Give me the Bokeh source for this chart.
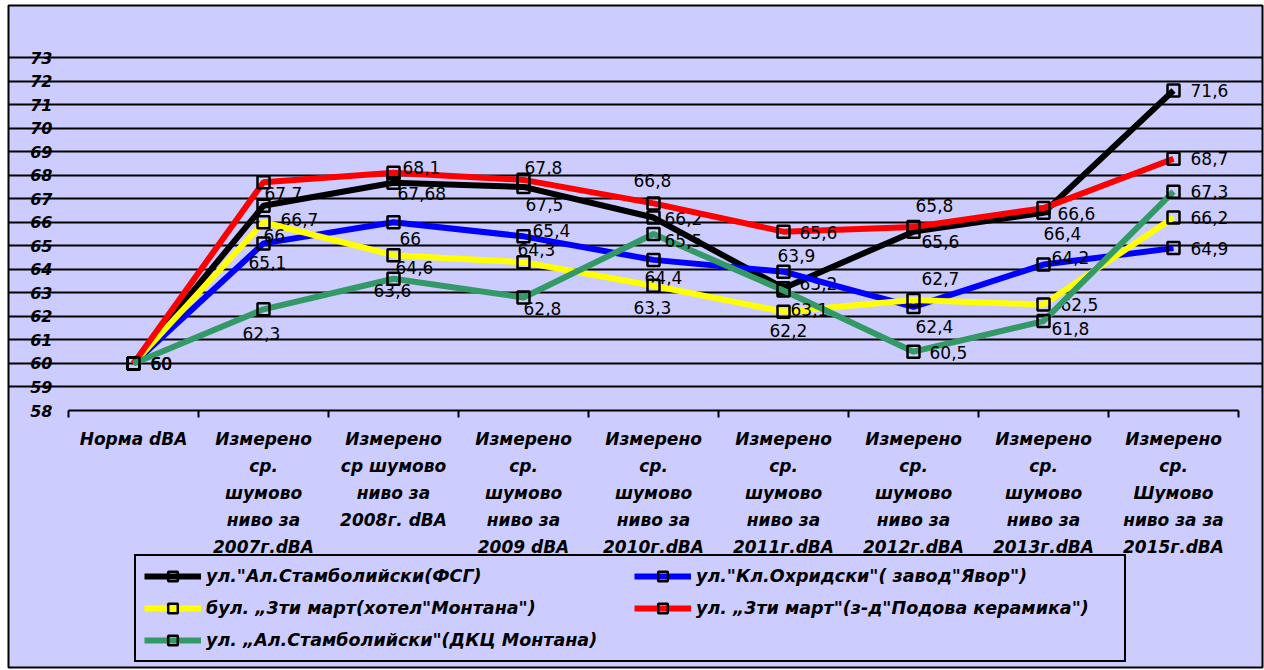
from bokeh.plotting import figure
from bokeh.models import Range1d, FixedTicker, Legend, LegendItem, ColumnDataSource
from bokeh.core.properties import value
from bokeh.embed import file_html
from bokeh.resources import INLINE

# ---------------- data ----------------
categories = [
    "Норма dBA",
    "Измерено\nср.\nшумово\nниво за\n2007г.dBA",
    "Измерено\nср шумово\nниво за\n2008г. dBA",
    "Измерено\nср.\nшумово\nниво за\n2009 dBA",
    "Измерено\nср.\nшумово\nниво за\n2010г.dBA",
    "Измерено\nср.\nшумово\nниво за\n2011г.dBA",
    "Измерено\nср.\nшумово\nниво за\n2012г.dBA",
    "Измерено\nср.\nшумово\nниво за\n2013г.dBA",
    "Измерено\nср.\nШумово\nниво за за\n2015г.dBA",
]
fsg = [60, 66.7, 67.68, 67.5, 66.2, 63.2, 65.6, 66.4, 71.6]
yavor = [60, 65.1, 66, 65.4, 64.4, 63.9, 62.4, 64.2, 64.9]
hotel_montana = [60, 66, 64.6, 64.3, 63.3, 62.2, 62.7, 62.5, 66.2]
podova = [60, 67.7, 68.1, 67.8, 66.8, 65.6, 65.8, 66.6, 68.7]
dkc = [60, 62.3, 63.6, 62.8, 65.5, 63.1, 60.5, 61.8, 67.3]

series_names = [
    'ул."Ал.Стамболийски(ФСГ)',
    'ул."Кл.Охридски"( завод"Явор")',
    'бул. „3ти март(хотел"Монтана")',
    'ул. „3ти март"(з-д"Подова керамика")',
    'ул. „Ал.Стамболийски"(ДКЦ Монтана)',
]
series_values = [fsg, yavor, hotel_montana, podova, dkc]
y_ticks = list(range(58, 74))
y_min, y_max = 58, 73

# ---------------- styling / placement ----------------
colors = ["#000000", "#0000FF", "#FFFF00", "#FF0000", "#339966"]
# data-label placement (screen px): left edge dx, vertical centre dy
label_dx = [
    [17, 17, 4, 2, 11, 16, 8, 0, 17],
    [17, -15, 6, 9, -9, -6, 2, 8, 17],
    [17, 0, 2, -6, -20, -14, 8, 17, 17],
    [17, 1, 9, 1, -20, 16, 2, 14, 17],
    [17, -21, -20, 0, 11, 7, 16, 8, 17],
]
label_dy = [
    [0, 14, 11, 18, 1, -5, 10, 21, 0],
    [0, 19, 16, -6, 18, -16, 20, -7, 0],
    [0, 13, 12, -13, 22, 19, -21, 0, 0],
    [0, 11, -5, -12, -23, 1, -21, 5, 0],
    [0, 24, 12, 11, 6, 19, 1, 7, 0],
]

BG = "#CCCCFF"
FONT = "DejaVu Sans"

W, H = 1264, 670
B_LEFT, B_TOP, B_RIGHT, B_BOTTOM = 8, 5, 2, 3        # white margin around the chart box
PLOT_LEFT, PLOT_RIGHT = 68, 1238                     # plot-area px (page coords)
PLOT_TOP, PLOT_BOTTOM = 57, 410

n = len(categories)
x = list(range(n))
fw = W - B_LEFT - B_RIGHT
fh = H - B_TOP - B_BOTTOM
px_x = (PLOT_RIGHT - PLOT_LEFT) / n
px_y = (PLOT_BOTTOM - PLOT_TOP) / (y_max - y_min)
x0 = -0.5 - (PLOT_LEFT - B_LEFT) / px_x
y1 = y_max + (PLOT_TOP - B_TOP) / px_y

p = figure(width=W, height=H, output_backend="svg", toolbar_location=None,
           x_range=Range1d(x0, x0 + fw / px_x), y_range=Range1d(y1 - fh / px_y, y1),
           min_border_left=B_LEFT, min_border_right=B_RIGHT,
           min_border_top=B_TOP, min_border_bottom=B_BOTTOM)
p.background_fill_color = BG
p.border_fill_color = "white"
p.outline_line_color = "black"
p.outline_line_width = 2
p.outline_line_alpha = 1

# grid
p.xgrid.visible = False
p.ygrid.ticker = FixedTicker(ticks=y_ticks[1:])
p.ygrid.bounds = (-0.5, n - 0.5)
p.ygrid.grid_line_color = "black"
p.ygrid.grid_line_width = 2

# y axis (drawn at the left edge of the plot area)
yax = p.yaxis[0]
yax.fixed_location = -0.5
yax.bounds = (y_min, y_max)
yax.ticker = FixedTicker(ticks=y_ticks)
yax.axis_line_color = None
yax.major_tick_line_color = None
yax.minor_tick_line_color = None
yax.major_tick_in = 0
yax.major_tick_out = 0
yax.major_label_standoff = 16
yax.major_label_text_font = FONT
yax.major_label_text_font_style = "bold italic"
yax.major_label_text_font_size = "16px"
yax.major_label_text_color = "black"

# x axis (at y = 58)
xax = p.xaxis[0]
xax.fixed_location = y_min
xax.bounds = (-0.5, n - 0.5)
xax.ticker = FixedTicker(ticks=x, minor_ticks=[i - 0.5 for i in range(n + 1)])
xax.major_label_overrides = {i: c for i, c in enumerate(categories)}
xax.axis_line_color = "black"
xax.axis_line_width = 2
xax.major_tick_line_color = None
xax.major_tick_in = 0
xax.major_tick_out = 0
xax.minor_tick_line_color = "black"
xax.minor_tick_line_width = 2
xax.minor_tick_in = 0
xax.minor_tick_out = 7
xax.major_label_standoff = 11
xax.major_label_text_font = FONT
xax.major_label_text_font_style = "bold italic"
xax.major_label_text_font_size = "17px"
xax.major_label_text_line_height = 1.35
xax.major_label_text_color = "black"

items = []
for name, vals, col, dxs, dys in zip(series_names, series_values, colors, label_dx, label_dy):
    src = ColumnDataSource(dict(
        x=x, y=vals,
        label=[f"{v:g}".replace(".", ",") for v in vals],
        dx=dxs, dy=dys,
    ))
    ln = p.line("x", "y", source=src, line_color=col, line_width=6)
    mk = p.scatter("x", "y", source=src, marker="square", size=12, fill_color=None,
                   line_color="black", line_width=2.5)
    items.append(LegendItem(label=name, renderers=[ln, mk]))
    p.text("x", "y", text="label", source=src, x_offset="dx", y_offset="dy",
           text_align="left", text_baseline="middle", text_font=value(FONT),
           text_font_size="17px", text_color="black")

# legend box: left edge at page x=134, bottom edge at page y=662
legend = Legend(items=items, ncols=2, orientation="horizontal",
                location=(134 - B_LEFT, (H - B_BOTTOM) - 662))
legend.border_line_color = "black"
legend.border_line_width = 2
legend.border_line_alpha = 1
legend.background_fill_color = BG
legend.background_fill_alpha = 1
legend.padding = 8
legend.spacing = 8
legend.margin = 0
legend.glyph_width = 57
legend.glyph_height = 24
legend.label_height = 24
legend.label_width = 420
legend.label_standoff = 5
legend.label_text_font = FONT
legend.label_text_font_style = "bold italic"
legend.label_text_font_size = "17.5px"
legend.label_text_color = "black"
p.add_layout(legend)

open("out.html", "w").write(file_html(p, INLINE))
